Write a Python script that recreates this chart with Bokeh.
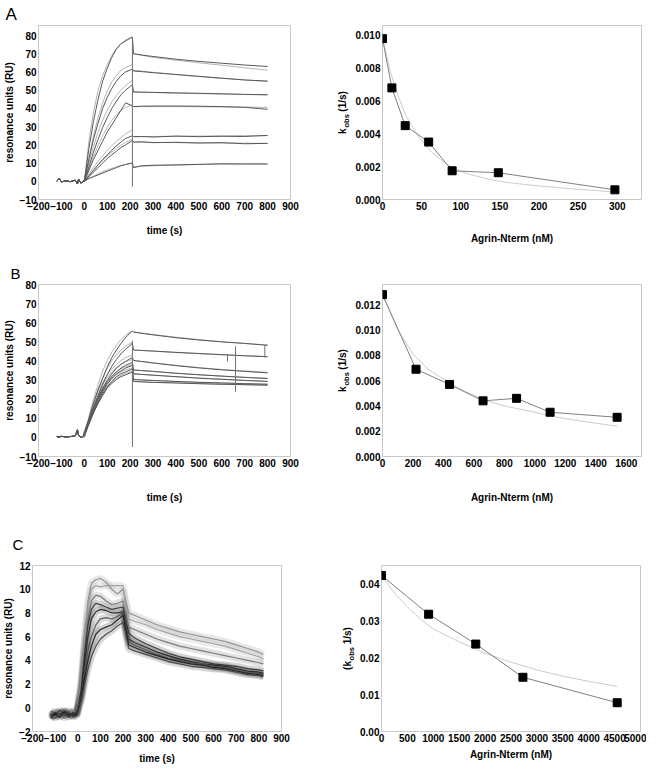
from bokeh.plotting import figure
from bokeh.layouts import column, row
from bokeh.models import FixedTicker, PrintfTickFormatter, Range1d, LinearAxis
from bokeh.embed import file_html
from bokeh.resources import INLINE

FONT = "Liberation Sans"
DATA_COL = "#585858"
FIT_COL = "#b4b4b4"
FRAME_COL = "#c8c8c8"
NB = "\u00a0"

# ---------------- Panel A: sensorgrams ----------------
T_BASE = [-120, -110, -100, -80, -60, -40, -30, -25, -15, -5]
T_ASSOC = [0, 20, 40, 60, 80, 100, 120, 140, 160, 180, 200, 210]
T_DISS = [215, 250, 300, 400, 500, 600, 700, 800]

A_BASE = [0.0, 1.5, -0.3, 0.2, -0.2, 0.6, -1.5, 1.2, -1.0, 0.0]
A_ASSOC = [
    [0, 18, 33, 45, 55, 62, 68, 72.5, 75.5, 77, 78.5, 79],
    [0, 12, 23, 32, 40, 46, 51, 55, 58, 60, 61, 61.5],
    [0, 8, 16, 23, 29.5, 35, 40, 44, 47.5, 50, 52, 53],
    [0, 6, 12, 17, 22, 27, 31, 35, 39, 43, 42, 41],
    [0, 3, 6, 9, 12, 14.5, 17, 19.5, 21.5, 23.5, 24.5, 25],
    [0, 2.5, 5, 7.5, 10, 12.5, 14.5, 16.5, 18.5, 20, 21.5, 22.5],
    [0, 1.5, 2.5, 3.5, 4.5, 5.5, 6.5, 7.5, 8.5, 9.2, 9.8, 10],
]
A_DISS = [
    [70, 69.3, 68.5, 67, 65.8, 64.8, 63.8, 63],
    [60.5, 60.2, 59.6, 58.6, 57.6, 56.6, 55.6, 55],
    [49, 48.9, 48.8, 48.5, 48.3, 48, 47.7, 47.5],
    [41, 41.2, 41.3, 41.3, 41.2, 41, 40.6, 39.5],
    [24.5, 24.6, 24.3, 24.8, 24.5, 24.7, 24.6, 25.2],
    [21.5, 21.7, 21.2, 21.4, 21, 21.2, 20.6, 20.8],
    [7.5, 8.5, 8.8, 9.0, 9.3, 9.6, 9.5, 9.5],
]
A_FIT_ASSOC = [
    [0, 22, 38, 50, 58, 64, 69, 73, 75.5, 77.5, 78.8, 79.3],
    [0, 13, 25, 35, 43, 49.5, 54.5, 58, 61, 62.5, 63.5, 64],
    [0, 10, 19, 27, 33.5, 39, 43.5, 47, 50, 52.5, 54.5, 55.3],
    [0, 7, 13.5, 19.5, 25, 29.5, 33.5, 36.5, 39, 40.5, 41.5, 42],
    [0, 4, 7.5, 11, 14, 17, 19.5, 22, 24, 26, 27.5, 28.5],
    [0, 3, 6, 9, 11.5, 14, 16, 18, 19.8, 21.3, 22.5, 23],
    [0, 1.5, 2.8, 4, 5.2, 6.2, 7.1, 7.9, 8.6, 9.2, 9.7, 9.9],
]
A_FIT_DISS = [
    [70, 69.2, 68, 66.5, 65, 63.7, 62.3, 61],
    [61, 60.5, 59.8, 58.6, 57.5, 56.5, 55.6, 54.8],
    [49, 48.9, 48.7, 48.4, 48.1, 47.9, 47.6, 47.4],
    [41, 41, 41, 41, 40.9, 40.8, 40.7, 40.6],
    [24.5, 24.5, 24.6, 24.7, 24.8, 24.9, 25, 25],
    [21.5, 21.4, 21.3, 21.2, 21.1, 21, 20.9, 20.8],
    [8, 8.2, 8.5, 8.9, 9.2, 9.4, 9.5, 9.5],
]
A_SPIKE_T = [[210, 210]]
A_SPIKE_RU = [[79, -3]]

# ---------------- Panel B: sensorgrams ----------------
B_BASE = [0.5, 0.2, 0.6, 0.3, 0.5, 0.8, 4.0, 1.0, 0.3, 0.5]
B_ASSOC = [
    [3, 10, 18, 25, 31, 37, 42, 46, 49.5, 52.5, 55, 56],
    [2, 9, 16, 22, 28, 33, 37.5, 41, 44, 46.5, 48.5, 49.5],
    [2, 8.5, 15, 21, 26, 30, 33.5, 36.5, 38.5, 40, 41.5, 42],
    [1.5, 8, 14, 20, 25, 29, 32, 34.5, 36.5, 38, 39, 39.5],
    [1.5, 8, 14, 19, 24, 28, 31, 33.5, 35, 36.5, 37.5, 38],
    [1, 7, 13, 18, 23, 26.5, 29.5, 32, 33.5, 34.5, 35.5, 36],
    [1, 7, 13, 18, 22, 26, 28.5, 30.5, 32, 33, 34, 34.5],
]
B_DISS = [
    [55.5, 54.8, 54, 52.5, 51.3, 50.3, 49.5, 48.5],
    [46, 45.8, 45.5, 44.8, 44.2, 43.6, 43, 42.5],
    [40.5, 40, 39.2, 37.8, 36.6, 35.6, 34.8, 34],
    [35.5, 35.2, 34.8, 33.8, 33, 32.3, 31.6, 31],
    [33.5, 33.2, 32.8, 32, 31.2, 30.6, 30, 29.5],
    [30.5, 30.3, 30, 29.5, 29, 28.7, 28.3, 28],
    [29.5, 29.3, 29, 28.7, 28.3, 28, 27.8, 27.5],
]
B_FIT_ASSOC = [
    [0, 11, 20, 28, 35, 40.5, 45, 48.5, 51.5, 53.8, 55.5, 56],
    [0, 10, 18.5, 25.5, 31.5, 36.5, 40.5, 43.5, 46, 48, 49.5, 50],
    [0, 9.5, 17.5, 24, 29, 33, 36, 38.5, 40.5, 42, 43, 43.5],
    [0, 9, 16.5, 22.5, 27.5, 31.5, 34.5, 36.8, 38.5, 39.8, 40.7, 41],
    [0, 8.8, 16, 21.5, 26, 29.5, 32.3, 34.5, 36, 37.2, 38, 38.3],
    [0, 8.5, 15.5, 21, 25, 28.5, 31, 33, 34.5, 35.5, 36.2, 36.5],
    [0, 8.3, 15, 20, 24, 27, 29.5, 31.3, 32.7, 33.7, 34.4, 34.7],
]
B_FIT_DISS = [
    [55.5, 55, 54.2, 52.8, 51.5, 50.4, 49.5, 48.7],
    [46, 45.8, 45.4, 44.7, 44.1, 43.5, 43, 42.6],
    [40.5, 40, 39.3, 38, 36.8, 35.8, 35, 34.3],
    [35.5, 35.2, 34.7, 33.8, 33, 32.3, 31.7, 31.2],
    [33.5, 33.2, 32.8, 32, 31.3, 30.7, 30.1, 29.6],
    [30.5, 30.3, 30, 29.5, 29.1, 28.7, 28.4, 28.1],
    [29.5, 29.3, 29, 28.7, 28.4, 28.1, 27.8, 27.6],
]
B_SPIKE_T = [[210, 210], [625, 625], [660, 660], [788, 788]]
B_SPIKE_RU = [[51, -5], [40, 44], [48, 24], [48.5, 42]]

# ---------------- Panel C: sensorgrams ----------------
T_C = [-120, -100, -80, -60, -40, -20, -5, 15, 30, 45, 60, 80, 100, 125, 150, 175,
       200, 210, 225, 250, 300, 350, 400, 450, 500, 550, 600, 650, 700, 750, 800, 820]
C_RU = [
    [-0.6, -0.2, -0.7, -0.3, -0.5, -0.2, -0.4, 2.5, 6, 9, 10.5, 10.8, 10.9, 10.6, 10.0, 9.6, 10.0,
     9.2, 8.0, 7.8, 7.4, 7.0, 6.7, 6.4, 6.2, 6.0, 5.8, 5.6, 5.3, 5.0, 4.7, 4.5],
    [-0.4, -0.8, -0.3, -0.6, -0.2, -0.5, -0.3, 2, 5.5, 8.5, 10, 10.3, 10.2, 10.3, 10.3, 10.3, 10.3,
     8.8, 7.5, 7.3, 7.0, 6.6, 6.3, 6.0, 5.8, 5.6, 5.4, 5.2, 4.9, 4.6, 4.3, 4.1],
    [-0.8, -0.5, -0.4, -0.9, -0.6, -0.3, -0.6, 1.8, 5, 7.5, 9, 9.5, 9.4, 9.0, 8.7, 8.8, 9.0,
     8.0, 6.8, 6.6, 6.2, 5.8, 5.5, 5.2, 5.0, 4.8, 4.6, 4.4, 4.2, 4.0, 3.8, 3.7],
    [-0.5, -0.7, -0.2, -0.5, -0.8, -0.4, -0.5, 1.5, 4.5, 7, 8.3, 8.8, 8.7, 8.5, 8.3, 8.4, 8.5,
     7.5, 6.3, 5.9, 5.4, 5.0, 4.6, 4.3, 4.1, 3.9, 3.7, 3.6, 3.5, 3.3, 3.2, 3.1],
    [-0.7, -0.4, -0.6, -0.3, -0.5, -0.7, -0.4, 1.2, 3.8, 6, 7.5, 8.1, 8.3, 8.2, 8.0, 8.0, 8.1,
     7.0, 5.8, 5.5, 5.1, 4.7, 4.4, 4.1, 3.9, 3.7, 3.6, 3.5, 3.3, 3.1, 3.0, 2.9],
    [-0.3, -0.6, -0.5, -0.2, -0.4, -0.6, -0.2, 1, 3, 4.8, 6, 7, 7.5, 7.6, 7.5, 7.7, 8.0,
     7.0, 5.6, 5.3, 4.9, 4.5, 4.2, 4.0, 3.8, 3.7, 3.5, 3.4, 3.2, 3.0, 2.9, 2.8],
    [-0.9, -0.5, -0.8, -0.4, -0.6, -0.5, -0.7, 0.8, 2.5, 4, 5.2, 6.2, 6.6, 6.8, 7.0, 7.4, 7.8,
     6.8, 5.3, 5.1, 4.7, 4.4, 4.1, 3.9, 3.7, 3.6, 3.4, 3.3, 3.1, 2.9, 2.8, 2.7],
    [-0.6, -0.9, -0.5, -0.7, -0.3, -0.8, -0.6, 0.6, 2, 3.3, 4.3, 5.2, 5.8, 6.2, 6.5, 6.9, 7.2,
     6.4, 5.0, 4.8, 4.5, 4.2, 3.9, 3.7, 3.5, 3.4, 3.3, 3.2, 3.0, 2.8, 2.7, 2.6],
]
C_COLORS = ["#8a8a8a", "#9a9a9a", "#707070", "#303030", "#202020", "#505050", "#181818", "#404040"]

# ---------------- kobs vs concentration ----------------
A_CONC = [0, 12, 29, 59, 89, 148, 297]
A_KOBS = [0.0098, 0.0068, 0.0045, 0.0035, 0.00175, 0.00163, 0.00059]
A_FIT_CONC = [0, 10, 20, 30, 45, 60, 75, 90, 110, 130, 150, 175, 200, 225, 250, 275, 297]
A_FIT_KOBS = [0.0098, 0.0078, 0.0063, 0.0051, 0.0039, 0.0030, 0.0024, 0.0019, 0.00155,
              0.0013, 0.0011, 0.00095, 0.00083, 0.00072, 0.00062, 0.00054, 0.00045]

B_CONC = [0, 220, 440, 660, 880, 1100, 1540]
B_KOBS = [0.0128, 0.0069, 0.0057, 0.0044, 0.0046, 0.0035, 0.0031]
B_FIT_CONC = [0, 100, 200, 300, 440, 550, 660, 800, 880, 1000, 1100, 1300, 1540]
B_FIT_KOBS = [0.0128, 0.0100, 0.0081, 0.0069, 0.0058, 0.0051, 0.0045, 0.0040, 0.0038,
              0.0035, 0.0032, 0.0028, 0.0024]

C_CONC = [0, 910, 1820, 2730, 4550]
C_KOBS = [0.0423, 0.0318, 0.0237, 0.0147, 0.0078]
C_FIT_CONC = [0, 250, 500, 750, 1000, 1500, 2000, 2500, 3000, 3500, 4000, 4550]
C_FIT_KOBS = [0.0423, 0.0375, 0.0338, 0.0305, 0.0278, 0.0243, 0.0212, 0.0188, 0.0167,
              0.0150, 0.0136, 0.0122]

TIME_TICKS = list(range(-200, 901, 100))


def style_axis(ax):
    ax.axis_line_color = None
    ax.major_tick_line_color = None
    ax.minor_tick_line_color = None
    ax.major_tick_out = 0
    ax.major_tick_in = 0
    ax.minor_tick_out = 0
    ax.minor_tick_in = 0
    ax.major_label_text_font = FONT
    ax.major_label_text_font_size = "10px"
    ax.major_label_text_font_style = "bold"
    ax.major_label_text_color = "black"
    ax.axis_label_text_font = FONT
    ax.axis_label_text_font_size = "10px"
    ax.axis_label_text_font_style = "bold"
    ax.axis_label_text_color = "black"


def make_fig(w, h, xr, yr, border, xticks, yticks, xlabel, ylabel,
             yfmt=None, xlab_standoff=6, ylab_standoff=4):
    p = figure(width=w, height=h, x_range=Range1d(*xr), y_range=Range1d(*yr),
               output_backend="svg", toolbar_location=None,
               min_border_left=border[0], min_border_right=border[1],
               min_border_top=border[2], min_border_bottom=border[3])
    p.grid.visible = False
    p.outline_line_color = FRAME_COL
    p.outline_line_width = 1
    p.background_fill_color = "white"
    p.border_fill_color = "white"
    xa, ya = p.xaxis[0], p.yaxis[0]
    style_axis(xa)
    style_axis(ya)
    xa.ticker = FixedTicker(ticks=xticks)
    ya.ticker = FixedTicker(ticks=yticks)
    xa.major_label_standoff = 2
    ya.major_label_standoff = 2
    xa.axis_label = xlabel
    xa.axis_label_standoff = xlab_standoff
    if ylabel:
        ya.axis_label = ylabel
        ya.axis_label_standoff = ylab_standoff
    if yfmt:
        ya.formatter = PrintfTickFormatter(format=yfmt)
    return p


def panel_letter(p, txt, offset, size, standoff):
    p.title.text = txt
    p.title.align = "left"
    p.title.offset = offset
    p.title.standoff = standoff
    p.title.text_font = FONT
    p.title.text_font_size = size
    p.title.text_font_style = "normal"
    p.title.text_color = "black"


def kobs_label(p, inner, outer, inner_standoff, outer_standoff):
    # "obs" subscript sits on the tick axis; "k ... (1/s)" on an outer label axis
    ya = p.yaxis[0]
    ya.axis_label = inner
    ya.axis_label_text_font_size = "7.5px"
    ya.axis_label_standoff = inner_standoff
    outer_ax = LinearAxis(ticker=FixedTicker(ticks=[]), axis_label=outer)
    style_axis(outer_ax)
    outer_ax.major_label_standoff = 0
    outer_ax.major_label_text_font_size = "0px"
    outer_ax.axis_label_standoff = outer_standoff
    p.add_layout(outer_ax, "left")


def sensorgram(p, base, assoc, diss, fit_assoc, fit_diss, sp_t, sp_ru):
    for fa, fd in zip(fit_assoc, fit_diss):
        p.line(T_ASSOC, fa, color=FIT_COL, line_width=1)
        p.line(T_DISS, fd, color=FIT_COL, line_width=1)
    for a, d in zip(assoc, diss):
        p.line(T_BASE + T_ASSOC + T_DISS, base + a + d, color=DATA_COL, line_width=1)
    p.multi_line(sp_t, sp_ru, color="#707070", line_width=1)


def kobs_plot(p, conc, kobs, fconc, fkobs):
    p.line(fconc, fkobs, color="#cccccc", line_width=1)
    p.line(conc, kobs, color="#808080", line_width=1)
    p.scatter(conc, kobs, marker="square", size=8, color="black")


# Row A
pA1 = make_fig(323, 256, (-200, 900), (-10, 85.5), (32, 33, 25, 57), TIME_TICKS,
               list(range(-10, 81, 10)), "time (s)", "resonance units (RU)",
               xlab_standoff=12, ylab_standoff=2)
sensorgram(pA1, A_BASE, A_ASSOC, A_DISS, A_FIT_ASSOC, A_FIT_DISS, A_SPIKE_T, A_SPIKE_RU)
panel_letter(pA1, "A", -33, "17px", 4)

pA2 = make_fig(323, 256, (0, 331), (0, 0.0106), (59, 5, 25, 57), list(range(0, 301, 50)),
               [0, 0.002, 0.004, 0.006, 0.008, 0.010], "Agrin-Nterm (nM)", None,
               yfmt="%.3f", xlab_standoff=20)
kobs_plot(pA2, A_CONC, A_KOBS, A_FIT_CONC, A_FIT_KOBS)
kobs_label(pA2, "obs" + NB * 8, "k" + NB * 6 + "(1/s)", 1, -8)

# Row B
pB1 = make_fig(323, 256, (-200, 900), (-10, 80.5), (32, 33, 28, 56), TIME_TICKS,
               list(range(-10, 81, 10)), "time (s)", "resonance units (RU)",
               xlab_standoff=22, ylab_standoff=2)
sensorgram(pB1, B_BASE, B_ASSOC, B_DISS, B_FIT_ASSOC, B_FIT_DISS, B_SPIKE_T, B_SPIKE_RU)
panel_letter(pB1, "B", -28, "15px", 6)

pB2 = make_fig(323, 256, (0, 1700), (0, 0.0136), (59, 5, 28, 55), list(range(0, 1601, 200)),
               [0, 0.002, 0.004, 0.006, 0.008, 0.010, 0.012], "Agrin-Nterm (nM)", None,
               yfmt="%.3f", xlab_standoff=22)
kobs_plot(pB2, B_CONC, B_KOBS, B_FIT_CONC, B_FIT_KOBS)
kobs_label(pB2, "obs" + NB * 8, "k" + NB * 6 + "(1/s)", 1, -8)

# Row C
pC1 = make_fig(323, 254, (-200, 900), (-2, 12), (22, 42, 49, 32), TIME_TICKS,
               list(range(-2, 13, 2)), "time (s)", "resonance units (RU)",
               xlab_standoff=8, ylab_standoff=2)
for ru, col in zip(C_RU, C_COLORS):
    pC1.line(T_C, ru, color=col, line_width=7, line_alpha=0.2)
for ru, col in zip(C_RU, C_COLORS):
    pC1.line(T_C, ru, color=col, line_width=1.2, line_alpha=0.9)
panel_letter(pC1, "C", -20, "15px", 26)

pC2 = make_fig(323, 254, (0, 5000), (0, 0.045), (58, 6, 53, 27), list(range(0, 5001, 500)),
               [0, 0.01, 0.02, 0.03, 0.04], "Agrin-Nterm (nM)", None,
               yfmt="%.2f", xlab_standoff=4)
kobs_plot(pC2, C_CONC, C_KOBS, C_FIT_CONC, C_FIT_KOBS)
kobs_label(pC2, "obs" + NB * 5, "(k" + NB * 6 + "1/s)", 1, -8)

layout = column(row(pA1, pA2), row(pB1, pB2), row(pC1, pC2))
open("out.html", "w").write(file_html(layout, INLINE))
